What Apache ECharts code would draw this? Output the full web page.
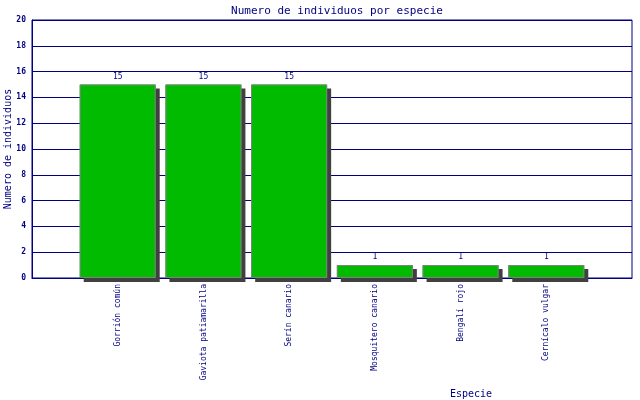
<!DOCTYPE html>
<html>
<head>
<meta charset="utf-8">
<script src="https://cdn.jsdelivr.net/npm/echarts@6/dist/echarts.min.js"></script>
<style>
  html, body { margin: 0; padding: 0; background: #fff; }
  #chart { width: 640px; height: 400px; }
</style>
</head>
<body>
<div id="chart"></div>
<script>
// blank slots at both ends keep the bars off the plot edges
const especies = ['', 'Gorrión común', 'Gaviota patiamarilla', 'Serín canario',
  'Mosquitero canario', 'Bengalí rojo', 'Cernícalo vulgar', '']
const individuos = [null, 15, 15, 15, 1, 1, 1, null]

const navy = '#000080'
const mono = '"DejaVu Sans Mono", monospace'

const chart = echarts.init(document.getElementById('chart'), null, { renderer: 'canvas' })

chart.setOption({
  backgroundColor: '#fff',
  animation: false,
  title: {
    text: 'Numero de individuos por especie',
    left: 332,
    textAlign: 'center',
    top: 1,
    textStyle: { color: navy, fontFamily: mono, fontSize: 11, fontWeight: 'normal' },
  },
  grid: {
    left: 32, right: 8, top: 20, bottom: 122,
    outerBoundsMode: 'none',
    containLabel: false,
    show: true, borderColor: navy, borderWidth: 1, backgroundColor: '#fff',
  },
  xAxis: {
    type: 'category',
    data: especies,
    boundaryGap: false,
    name: 'Especie',
    nameLocation: 'middle',
    nameGap: 111,
    nameMoveOverlap: false,
    nameTextStyle: { color: navy, fontFamily: mono, fontSize: 10, padding: [0, 0, 0, 278] },
    axisLine: { lineStyle: { color: navy, width: 1 } },
    axisTick: { show: false },
    axisLabel: {
      rotate: 90, interval: 0, margin: 6,
      color: navy, fontFamily: mono, fontSize: 8,
    },
    splitLine: { show: false },
  },
  yAxis: {
    type: 'value',
    min: 0, max: 20, interval: 2,
    name: 'Numero de individuos',
    nameLocation: 'middle',
    nameGap: 19,
    nameMoveOverlap: false,
    nameTextStyle: { color: navy, fontFamily: mono, fontSize: 10 },
    axisLine: { show: true, lineStyle: { color: navy, width: 1 } },
    axisTick: { show: false },
    axisLabel: { color: navy, fontFamily: mono, fontSize: 8, fontWeight: 'bold', margin: 6 },
    splitLine: { lineStyle: { color: navy, width: 1 } },
  },
  series: [
    {
      // filled bars with the drop shadow
      type: 'bar',
      data: individuos,
      barWidth: 76,
      itemStyle: {
        color: '#00bb00',
        shadowColor: '#404040',
        shadowOffsetX: 4,
        shadowOffsetY: 4,
        shadowBlur: 0,
      },
      label: {
        show: true,
        position: 'top',
        distance: 4,
        color: navy,
        fontFamily: mono,
        fontSize: 8,
      },
    },
    {
      // grey outline drawn on top, without shadow
      type: 'bar',
      data: individuos,
      barWidth: 76,
      barGap: '-100%',
      silent: true,
      itemStyle: {
        color: 'transparent',
        borderColor: '#808080',
        borderWidth: 1,
      },
    },
  ],
})
</script>
</body>
</html>
